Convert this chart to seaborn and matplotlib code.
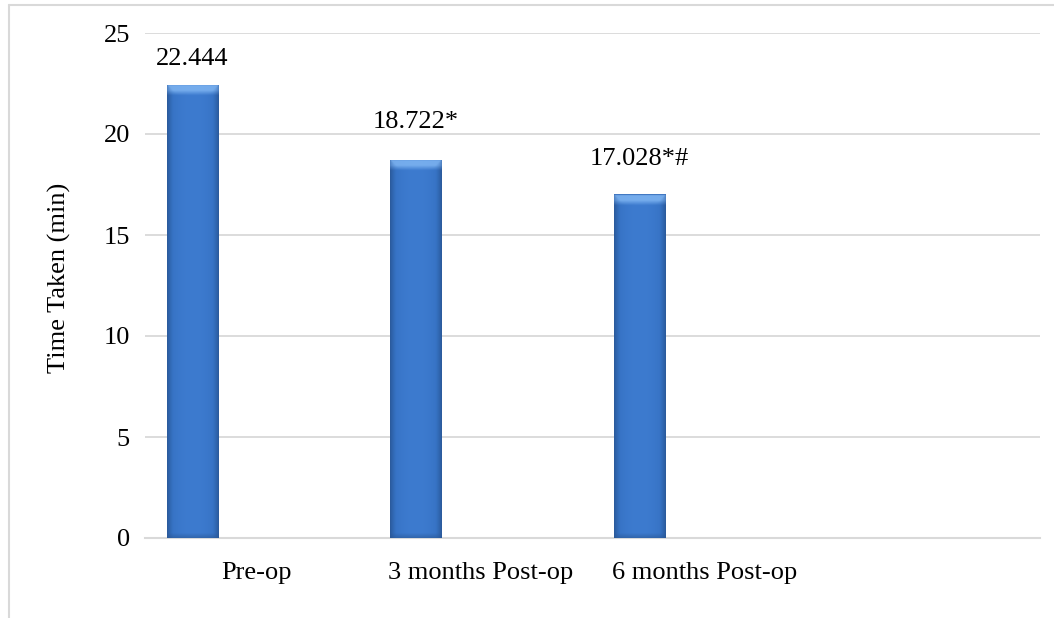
import numpy as np
import pandas as pd
import matplotlib
matplotlib.use("Agg")
import matplotlib.pyplot as plt
from matplotlib.colors import to_rgb
from matplotlib.lines import Line2D
import seaborn as sns

# ---- data -------------------------------------------------------------
categories = ["Pre-op", "3 months Post-op", "6 months Post-op"]
times = [22.444, 18.722, 17.028]
significance = ["", "*", "*#"]
y_ticks = [0, 5, 10, 15, 20, 25]

# ---- layout -----------------------------------------------------------
n_slots = 4            # category slots on the axis (last one left empty)
bar_shift = -0.289     # bars sit left of the slot centre
bar_width = 0.228
label_lift = [14, 23, 21]   # points between bar top and label baseline
font_size = 19

sns.set_theme(style="white")
plt.rcParams["font.family"] = ["Liberation Serif", "DejaVu Serif"]

fig = plt.figure(figsize=(10.54, 6.18), dpi=100)
ax = fig.add_axes([145 / 1054, 80 / 618, 895 / 1054, 505 / 618])

df = pd.DataFrame({
    "category": categories,
    "slot": np.arange(len(categories)),
    "time": times,
})
df["pos"] = df["slot"] + bar_shift

sns.barplot(data=df, x="pos", y="time", native_scale=True, width=bar_width,
            color="#3a75c8", edgecolor="#6f8db8", linewidth=0.7, ax=ax,
            zorder=3, errorbar=None)

# ---- shaded, bevelled bar faces ------------------------------------------
edge = np.array(to_rgb("#2b5a9c"))
mid = np.array(to_rgb("#3571c2"))
core = np.array(to_rgb("#3d7bcf"))
bevel = np.array(to_rgb("#7fb5f2"))
rim_col = np.array(to_rgb("#3c72bd"))
base_dark = np.array(to_rgb("#2a5896"))

ax.set_ylim(0, 25)
ax.set_xlim(-0.5, n_slots - 0.5)
px_per_unit = 505 / 25.0
bar_px = bar_width * 895 / n_slots

for patch in list(ax.patches):
    x0 = patch.get_x()
    w = patch.get_width()
    h = patch.get_height()
    cols = 80
    rows = int(h * px_per_unit * 2)
    t = np.linspace(0, 1, cols)
    d = np.abs(2 * t - 1)                     # 0 at centre, 1 at edge
    a = np.clip(d / 0.9, 0, 1) ** 2.2
    prof = (1 - a)[:, None] * core + a[:, None] * mid
    e = np.clip((d - 0.75) / 0.25, 0, 1) ** 1.5
    prof = (1 - e)[:, None] * prof + e[:, None] * edge
    img = np.repeat(prof[None, :, :], rows, axis=0)

    y = np.linspace(0, h, rows)
    dist_top_px = (h - y) * px_per_unit
    dist_bot_px = y * px_per_unit
    # top bevel: bright band under a thin rim, fading out below
    side_px = np.minimum(t, 1 - t) * bar_px
    band = np.clip(1 - (dist_top_px[:, None] - 6.0) / 5.0, 0, 1)
    band = band * (dist_top_px[:, None] > 1.0) * 0.85
    corner = np.clip(side_px[None, :] / np.maximum(dist_top_px[:, None], 1e-3), 0, 1)
    bv = band * (0.5 + 0.5 * corner)
    img = img * (1 - bv[:, :, None]) + bevel[None, None, :] * bv[:, :, None]
    rim = (dist_top_px <= 1.0)[:, None, None]
    img = np.where(rim, rim_col[None, None, :], img)
    # darker foot of the bar
    bd = np.clip(1 - dist_bot_px / 5.0, 0, 1) * 0.6
    img = img * (1 - bd[:, None, None]) + base_dark[None, None, :] * bd[:, None, None]

    im = ax.imshow(img, extent=[x0, x0 + w, 0, h], origin="lower",
                   aspect="auto", zorder=3.5, interpolation="bilinear")
    im.set_clip_path(patch)

ax.set_ylim(0, 25)
ax.set_xlim(-0.5, n_slots - 0.5)

# ---- value labels -------------------------------------------------------
for i, (v, s) in enumerate(zip(times, significance)):
    ax.annotate(f"{v:.3f}{s}", xy=(df["pos"][i], v), xytext=(0, label_lift[i]),
                textcoords="offset points", ha="center", va="baseline",
                fontsize=font_size, color="black", zorder=5)

# ---- axes styling -------------------------------------------------------
ax.set_yticks(y_ticks)
ax.set_yticklabels([str(t) for t in y_ticks])
ax.set_xticks(df["slot"])
ax.set_xticklabels(categories)
ax.tick_params(axis="y", length=0, pad=10.8, labelsize=font_size, colors="black")
ax.tick_params(axis="x", length=0, pad=17, labelsize=font_size, colors="black")
ax.yaxis.grid(True, color="#d9d9d9", linewidth=1.3)
ax.xaxis.grid(False)
ax.set_axisbelow(True)
for side in ["top", "right", "left"]:
    ax.spines[side].set_visible(False)
ax.spines["bottom"].set_color("#d9d9d9")
ax.spines["bottom"].set_linewidth(1.5)
ax.set_xlabel("")
ax.set_ylabel("Time Taken (min)", fontsize=font_size, color="black")
ax.yaxis.set_label_coords(-0.083, 0.515)

# ---- chart-area frame -----------------------------------------------------
frame = dict(color="#d9d9d9", linewidth=1.5, transform=fig.transFigure)
fig.add_artist(Line2D([8.5 / 1054, 8.5 / 1054], [0, 1 - 5 / 618], **frame))
fig.add_artist(Line2D([8.5 / 1054, 1], [1 - 5 / 618, 1 - 5 / 618], **frame))

fig.savefig("out.png", dpi=100, facecolor="white")
